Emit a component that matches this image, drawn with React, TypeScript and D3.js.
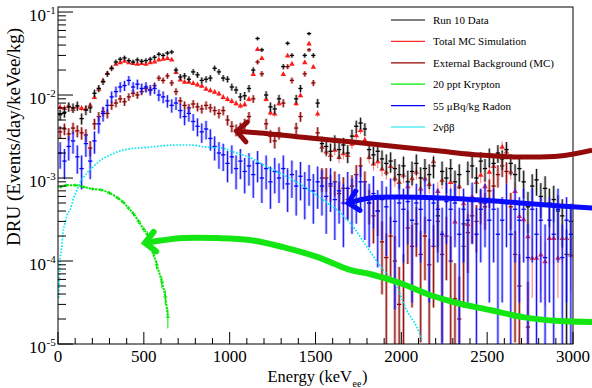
import React from "react";
import * as d3 from "d3";

// Energy spectrum, 25 keV bins from 0 to 3000 keVee.
// Rates are listed in units of 10^-3 DRU (events/day/keVee/kg).
const BIN_WIDTH = 25;
const RATE_UNIT = 1e-3;

const run10Rate = [
  5.8, 6.2, 7.2, 7.0, 7.4, 5.2, 6.6, 7.0, 10.5, 12.0,
  14.5, 18, 21, 25, 27, 28, 26, 25, 26.5, 25.5,
  26, 27, 28.5, 31, 30, 32, 33, 20, 16.5, 17,
  15.5, 19, 17.5, 15, 15.5, 16, 21, 19, 16, 15.5,
  12.5, 11.5, 9.5, 9.8, 12, 20, 48, 35, 10, 7.2,
  6.8, 9, 22, 42, 30, 9, 12, 30, 55, 30,
  8, 2.6, 2.4, 2.1, 2.7, 2.2, 2.5, 2.0, 3.2, 4.2,
  4.6, 3.9, 2.2, 1.9, 2.1, 1.7, 1.5, 1.6, 1.3, 1.1,
  1.4, 0.9, 1.2, 1.5, 1.0, 1.3, 1.1, 1.4, 0.35, 1.2,
  1.0, 1.3, 0.9, 1.1, 0.28, 1.2, 1.4, 1.0, 1.6, 1.3,
  1.8, 1.5, 2.0, 1.7, 2.2, 1.5, 1.1, 1.3, 0.9, 0.45,
  0.8, 0.95, 0.6, 0.75, 0.5, 0.55, 0.4, 0.35, 0.12, 0.3,
];

const totalMcRate = [
  7.2, 7.0, 7.5, 6.8, 7.3, 7.0, 6.9, 7.6, 9.5, 12,
  15, 18.5, 21.5, 24, 25, 26, 25, 24.5, 24, 24.5,
  24, 25, 25.5, 27, 27.5, 28, 27, 19, 15.5, 14.5,
  14.5, 14, 13.5, 13, 12, 11.5, 11, 10.5, 9.5, 9,
  8.5, 8, 7.5, 7.8, 9, 18, 36, 28, 9, 6.2,
  6.0, 8, 18, 30, 24, 8, 10, 25, 42, 22,
  6, 2.4, 2.1, 1.9, 2.2, 1.8, 2.0, 1.9, 2.6, 3.3,
  3.8, 2.9, 1.8, 1.5, 1.6, 1.3, 1.2, 1.4, 1.0, 0.9,
  1.1, 0.8, 1.0, 1.2, 0.75, 1.0, 0.85, 1.6, 0.7, 0.95,
  0.6, 0.9, 0.3, 0.8, 0.5, 0.28, 0.6, 0.9, 1.1, 0.8,
  1.2, 1.4, 1.9, 2.4, 2.1, 1.2, 0.7, 0.35, 0.32, 0.2,
  0.11, 0.11, 0.12, 0.1, 0.19, 0.19, 0.11, 0.19, 0.19, 0.12,
];

const externalRate: (number | null)[] = [
  3.6, 3.9, 3.4, 4.0, 3.7, 3.5, 3.3, 2.3, 4.5, 5.5,
  6.3, 6.0, 7.5, 8.0, 9.0, 8.3, 9.5, 10.5, 10, 11,
  12, 11.5, 13, 16, 15, 17, 14, 11, 8.5, 7.5,
  7.0, 7.8, 7.2, 6.8, 7.5, 7.0, 6.5, 6.0, 6.5, 5.0,
  4.2, 3.8, 4.0, 4.5, 5.5, 9, 25, 18, 4.5, 3.2,
  2.8, 3.5, 8, 22, 15, 4, 5.5, 18, 35, 14,
  3.5, 1.0, 1.0, 0.8, 0.9, 0.65, 0.75, 0.55, 0.8, 1.1,
  1.4, 0.9, 0.5, 0.35, 0.4, 0.17, 0.11, 0.2, 0.1, 0.03,
  0.05, 0.25, 0.15, 0.28, 0.12, 0.2, 0.09, 0.15, 0.3, 0.12,
  0.2, 0.1, 0.035, 0.02, 0.15, 0.22, 0.35, 0.3, 0.5, 0.45,
  0.7, 0.8, 1.1, 1.4, 1.2, 0.45, 0.12, 0.05, null, 0.016,
  null, null, null, null, null, null, null, null, null, null,
];

const radonRate = [
  2.0, 1.6, 2.4, 2.8, 1.8, 1.3, 2.6, 1.6, 2.8, 4.5,
  6.0, 7.5, 9.5, 11, 12.5, 13, 15, 12.5, 13.5, 12,
  12.5, 11.5, 12, 10, 9.5, 8.5, 7.5, 8, 6.5, 5.5,
  6.0, 4.8, 4.2, 3.6, 3.9, 3.0, 2.4, 2.0, 1.9, 1.5,
  1.8, 1.3, 1.6, 1.2, 1.4, 1.1, 1.5, 1.0, 1.3, 0.9,
  1.2, 1.0, 1.3, 0.85, 1.1, 0.8, 1.05, 0.75, 0.95, 0.7,
  0.9, 0.8, 0.6, 0.85, 0.55, 0.7, 0.5, 0.75, 0.6, 0.7,
  0.9, 0.55, 0.5, 0.65, 0.4, 0.55, 0.45, 0.6, 0.3, 0.5,
  0.42, 0.52, 0.31, 0.5, 0.42, 0.6, 0.31, 0.5, 0.42, 0.21,
  0.52, 0.42, 0.5, 0.21, 0.42, 0.31, 0.52, 0.21, 0.42, 0.5,
  0.31, 0.42, 0.21, 0.31, 0.5, 0.21, 0.42, 0.31, 0.42, 0.11,
  0.42, 0.21, 0.31, 0.11, 0.31, 0.21, 0.42, 0.11, 0.31, 0.21,
];

// Krypton and 2νββ components, sampled energies (keV) and rates (10^-3 DRU)
const kryptonEnergy = [15, 50, 100, 150, 200, 250, 300, 350, 380, 410, 440, 470, 500, 520, 540, 555, 575, 605, 625, 640];
const kryptonRate = [0.78, 0.82, 0.82, 0.78, 0.74, 0.72, 0.66, 0.57, 0.51, 0.435, 0.37, 0.3, 0.24, 0.21, 0.165, 0.125, 0.09, 0.056, 0.037, 0.021];

const bb2nuEnergy = [5, 12, 23, 29, 41, 58, 70, 87, 111, 128, 169, 204, 250, 303, 379, 536, 693, 770, 862, 955, 1020, 1110, 1220, 1370, 1490, 1545, 1645, 1720, 1800, 1895, 1975, 2030, 2090, 2120];
const bb2nuRate = [0.036, 0.1, 0.156, 0.217, 0.287, 0.379, 0.411, 0.543, 0.717, 0.87, 1.15, 1.36, 1.65, 1.89, 2.17, 2.36, 2.5, 2.5, 2.36, 2.3, 2.06, 1.79, 1.36, 0.946, 0.66, 0.543, 0.379, 0.257, 0.147, 0.078, 0.0486, 0.0257, 0.016, 0.0112];

// Statistical weight of a single entry in each histogram (DRU), for error bars
const RUN10_WEIGHT = 1.2e-4;
const TOTAL_MC_WEIGHT = 5e-5;
const EXTERNAL_WEIGHT = 1e-4;
const RADON_WEIGHT = 2.5e-4;
const KRYPTON_WEIGHT = 1.5e-6;

// Annotation arrows, [energy keV, rate 10^-3 DRU], ending at the arrow tip
const externalArrow = [[3111, 2.17], [2924, 1.84], [2691, 1.79], [2458, 1.89], [2225, 2.11], [1992, 2.36], [1701, 2.73], [1410, 3.12], [1177, 3.49], [1041, 3.65]];
const radonArrow = [[3111, 0.435], [2924, 0.46], [2691, 0.5], [2458, 0.543], [2225, 0.574], [1992, 0.59], [1817, 0.574], [1690, 0.5]];
const kryptonArrow = [[3111, 0.0184], [2924, 0.0189], [2709, 0.0211], [2517, 0.0257], [2324, 0.0312], [2167, 0.0389], [1992, 0.0543], [1817, 0.0697], [1701, 0.078], [1509, 0.112], [1311, 0.147], [1118, 0.179], [926, 0.189], [728, 0.189], [507, 0.165]];

const xTickValues = [0, 500, 1000, 1500, 2000, 2500, 3000];
const yDecades = [-5, -4, -3, -2, -1];

const legendLabels = ["Run 10 Data", "Total MC Simulation", "External Background (MC)", "20 ppt Krypton", "55 \u03bcBq/kg Radon", "2\u03bd\u03b2\u03b2"];
const legendColors = ["#000000", "#ff2a2a", "#990000", "#00ee00", "#0000ff", "#00e8f0"];

const FONT = "'Liberation Serif', 'Times New Roman', 'DejaVu Serif', serif";

type Bin = { e: number; v: number; lo: number; hi: number };

export default function App() {
  const W = 592;
  const H = 388;
  const plot = { left: 58, right: 573, top: 7, bottom: 344 };
  const yMin = 1e-5;

  const x = d3.scaleLinear().domain([0, 3000]).range([plot.left, plot.right]);
  const y = d3.scaleLog().domain([yMin, 0.115]).range([plot.bottom, plot.top]);

  const toBins = (rates: (number | null)[], weight: number): Bin[] =>
    rates.flatMap((r, i) => {
      if (r == null) return [];
      const v = r * RATE_UNIT;
      const s = Math.sqrt(v * weight);
      return [{ e: (i + 0.5) * BIN_WIDTH, v, lo: Math.max(v - s, yMin), hi: v + s }];
    });

  const run10 = toBins(run10Rate, RUN10_WEIGHT);
  const totalMc = toBins(totalMcRate, TOTAL_MC_WEIGHT);
  const external = toBins(externalRate, EXTERNAL_WEIGHT);
  const radon = toBins(radonRate, RADON_WEIGHT);

  const krypton = kryptonEnergy.map((e, i) => {
    const v = kryptonRate[i] * RATE_UNIT;
    const s = Math.sqrt(v * KRYPTON_WEIGHT);
    return { e, v, lo: Math.max(v - s, yMin), hi: v + s };
  });

  const curve = d3
    .line<[number, number]>()
    .x((d) => x(d[0]))
    .y((d) => y(d[1] * RATE_UNIT))
    .curve(d3.curveMonotoneX);

  const bb2nuPath = curve(bb2nuEnergy.map((e, i) => [e, bb2nuRate[i]] as [number, number])) || "";
  const kryptonPath = curve(kryptonEnergy.map((e, i) => [e, kryptonRate[i]] as [number, number])) || "";

  const halfBin = BIN_WIDTH / 2;
  const triangle = d3.symbol().type(d3.symbolTriangle).size(13)() || "";

  const barSeries = (bins: Bin[], band: string, bandOpacity: number, stroke: string, key: string) => (
    <g key={key}>
      {bins.map((d, i) => {
        const cx = x(d.e);
        return (
          <g key={i}>
            <rect x={cx - 1.4} width={2.8} y={y(d.hi)} height={Math.max(0.5, y(d.lo) - y(d.hi))} fill={band} opacity={bandOpacity} />
            <line x1={cx} x2={cx} y1={y(d.hi)} y2={y(d.lo)} stroke={stroke} strokeWidth={0.9} />
            <line x1={x(d.e - halfBin)} x2={x(d.e + halfBin)} y1={y(d.v)} y2={y(d.v)} stroke={stroke} strokeWidth={1.3} />
          </g>
        );
      })}
    </g>
  );

  const arrow = (pts: number[][], color: string, width: number, key: string) => {
    const p = pts.map(([e, r]) => [x(e), y(r * RATE_UNIT)] as [number, number]);
    const path = d3.line().curve(d3.curveCatmullRom.alpha(0.5))(p) || "";
    const [tx, ty] = p[p.length - 1];
    const [px, py] = p[p.length - 2];
    const back = Math.atan2(py - ty, px - tx);
    const L = 14;
    const spread = 0.78;
    const a1 = [tx + L * Math.cos(back + spread), ty + L * Math.sin(back + spread)];
    const a2 = [tx + L * Math.cos(back - spread), ty + L * Math.sin(back - spread)];
    return (
      <g key={key}>
        <path d={path} fill="none" stroke={color} strokeWidth={width} strokeLinecap="butt" />
        <path d={`M${a1[0]},${a1[1]}L${tx},${ty}L${a2[0]},${a2[1]}`} fill="none" stroke={color} strokeWidth={width} strokeLinejoin="miter" strokeLinecap="round" />
      </g>
    );
  };

  const xMinor = d3.range(100, 3000, 100).filter((v) => v % 500 !== 0);
  const yMinor = yDecades.flatMap((k) => d3.range(2, 10).map((m) => m * Math.pow(10, k))).filter((v) => v < 0.115);

  const textStyle = { fontFamily: FONT };

  return (
    <svg width={W} height={H} viewBox={`0 0 ${W} ${H}`} style={{ position: "absolute", left: 0, top: 0, display: "block", background: "#fff", fontFamily: FONT }}>
      <rect x={0} y={0} width={W} height={H} fill="#fff" />
      <defs>
        <clipPath id="plot-area">
          <rect x={plot.left} y={plot.top} width={plot.right - plot.left} height={plot.bottom - plot.top} />
        </clipPath>
      </defs>

      <g clipPath="url(#plot-area)">
        {barSeries(external, "#b04848", 0.5, "#8b0000", "external")}
        <g>
          {totalMc.map((d, i) => (
            <line key={i} x1={x(d.e)} x2={x(d.e)} y1={y(d.hi)} y2={y(d.lo)} stroke="#ff5050" strokeWidth={1} opacity={0.8} />
          ))}
          {totalMc.map((d, i) => (
            <path key={"t" + i} d={triangle} transform={`translate(${x(d.e)},${y(d.v) + 0.6})`} fill="#ff1a1a" />
          ))}
        </g>
        {barSeries(run10, "#808080", 0.55, "#000000", "run10")}
        {barSeries(radon, "#6060ff", 0.45, "#0000ff", "radon")}

        <path d={bb2nuPath} fill="none" stroke="#00e8f0" strokeWidth={1.7} strokeDasharray="1.6 1.6" />
        <path d={kryptonPath} fill="none" stroke="#00e600" strokeWidth={2} strokeDasharray="2.2 1" />
        {krypton.map((d, i) => (
          <g key={i}>
            <line x1={x(d.e)} x2={x(d.e)} y1={y(d.hi)} y2={y(d.lo)} stroke="#00e600" strokeWidth={1} />
            <line x1={x(d.e) - 2} x2={x(d.e) + 2} y1={y(d.v)} y2={y(d.v)} stroke="#00e600" strokeWidth={1} />
          </g>
        ))}
      </g>

      {/* frame */}
      <rect x={plot.left} y={plot.top} width={plot.right - plot.left} height={plot.bottom - plot.top} fill="none" stroke="#000" strokeWidth={1} />

      {/* x axis ticks and labels */}
      {xMinor.map((v) => (
        <line key={v} x1={x(v)} x2={x(v)} y1={plot.bottom} y2={plot.bottom - 6} stroke="#000" strokeWidth={1} />
      ))}
      {xTickValues.map((v) => (
        <g key={v}>
          <line x1={x(v)} x2={x(v)} y1={plot.bottom} y2={plot.bottom - 12} stroke="#000" strokeWidth={1} />
          <text x={x(v)} y={362} textAnchor="middle" fontSize={17} style={textStyle}>{v}</text>
        </g>
      ))}

      {/* y axis ticks and labels */}
      {yMinor.map((v, i) => (
        <line key={i} x1={plot.left} x2={plot.left + 8} y1={y(v)} y2={y(v)} stroke="#000" strokeWidth={1} />
      ))}
      {yDecades.map((k) => {
        const ty = y(Math.pow(10, k));
        return (
          <g key={k}>
            <line x1={plot.left} x2={plot.left + 15} y1={ty} y2={ty} stroke="#000" strokeWidth={1} />
            <text x={46} y={ty + 8.5} textAnchor="end" fontSize={17} style={textStyle}>10</text>
            <text x={46.5} y={ty + 2} fontSize={11} style={textStyle}>{k}</text>
          </g>
        );
      })}

      {/* axis titles */}
      <text transform="translate(20,137) rotate(-90)" textAnchor="middle" fontSize={19} style={textStyle}>DRU (Events/day/keVee/kg)</text>
      <text x={352} y={382} textAnchor="end" fontSize={16.5} style={textStyle}>Energy (keV</text>
      <text x={352.5} y={386.5} fontSize={10} style={textStyle}>ee</text>
      <text x={362} y={382} fontSize={16.5} style={textStyle}>)</text>

      {/* legend */}
      {legendLabels.map((label, i) => {
        const ly = 20 + i * 21.4;
        return (
          <g key={label}>
            <line x1={391} x2={425} y1={ly} y2={ly} stroke={legendColors[i]} strokeWidth={1.2} />
            <text x={433} y={ly + 4} fontSize={11} style={textStyle}>{label}</text>
          </g>
        );
      })}

      {/* annotation arrows */}
      {arrow(externalArrow, "#930a0a", 5, "a-ext")}
      {arrow(radonArrow, "#0a0aff", 5, "a-rn")}
      {arrow(kryptonArrow, "#14e614", 6, "a-kr")}
    </svg>
  );
}
